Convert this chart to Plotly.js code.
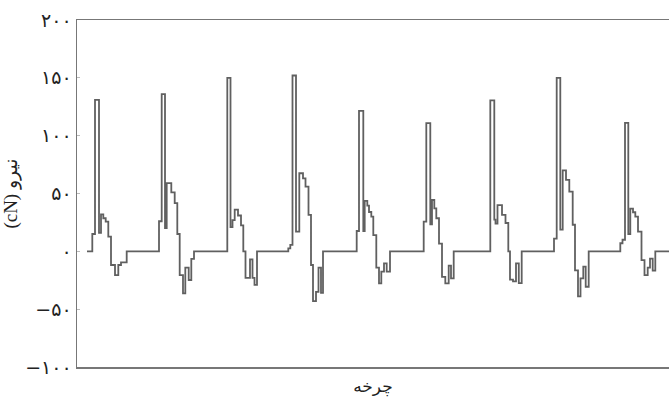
<!DOCTYPE html>
<html>
<head>
<meta charset="utf-8">
<script src="https://cdn.plot.ly/plotly-3.0.1.min.js"></script>
<style>html,body{margin:0;padding:0;background:#fff;}#chart{width:669px;height:403px;}</style>
</head>
<body>
<div id="chart"></div>
<script>
// Sample position along the cycles (arbitrary units) and force (cN)
const samplePos = [
  10, 15.3, 18, 22, 24, 26.3, 28.7, 31.3, 34, 38, 41.3, 44, 49.7,
  82, 84.7, 88, 89.7, 94.3, 97.7, 100.3, 102.7, 106, 108.3, 111.7, 114.3, 117,
  150.3, 153.5, 155.5, 157.7, 161, 164, 166.3, 168.5, 173, 175.5, 177.5, 180,
  211.3, 213.3, 215.5, 219, 222.3, 226, 228.5, 231.5, 234, 236, 239, 241.5, 244, 246,
  279.7, 282, 286.3, 287.7, 290.3, 292, 294.3, 296.3, 299.3, 302, 304.3, 307, 309.7, 313,
  346.7, 349.3, 353.3, 355, 357.3, 359.3, 362, 365, 368.3, 371.7, 374, 376.7,
  413.3, 417.3, 418.5, 420.5, 425, 428.5, 431.3, 433, 436, 439, 441.8, 444.7,
  477, 479.7, 483.3, 485.7, 489, 492.3, 495.7, 498, 501, 503.5, 506.3, 508.7, 511.7,
  543.3, 545.5, 548, 551.3, 553.3, 556, 558.3, 561, 564.5, 567.5, 570.7, 573, 575.7, 578.3, 592
];
const force = [
  0, 15, 131, 16, 32, 28.6, 25.7, 12.7, -11.8, -20.5, -11.8, -9.5, 0,
  26, 136, 20, 59, 51, 41.6, 15, -20.5, -36.4, -14, -24.8, -6.6, 0,
  150, 21, 27, 36, 31, 22.5, 0, -23, -7, -23, -29, 0,
  2.6, 5.5, 152, 17, 67.5, 63, 56, 31.5, -11.8, -43, -35, -14, -36, 0,
  17.6, 121.5, 17.6, 43.6, 39.5, 34, 30, 14, -14, -27.7, -17.6, -10.4, -17.6, 0,
  25.7, 110.8, 23.4, 44.4, 37.2, 28.6, 6.6, -22, -27.7, -12.4, -23.4, 0,
  130.5, 27.5, 24, 40, 31.5, 24.5, 0, -24.5, -26, -10.4, -27.5, 0,
  11, 150, 18.8, 70, 61.8, 51.7, 23, -16.5, -39, -23.4, -13.3, -30.6, 0,
  7, 10, 111, 15, 37, 33.8, 30, 17, -7.6, -20.5, -14, -6.3, -16.7, 0, 0
];
const yTickVals = [-100, -50, 0, 50, 100, 150, 200];
const yTickText = ["−۱۰۰", "−۵۰", "۰", "۵۰", "۱۰۰", "۱۵۰", "۲۰۰"];
const xTitle = "چرخه";
const yTitle = "(cN) نیرو";

const trace = {
  x: samplePos, y: force, type: 'scatter', mode: 'lines',
  line: {shape: 'hv', color: '#606060', width: 1.8},
  hoverinfo: 'skip'
};
const layout = {
  width: 669, height: 403,
  margin: {l: 77, r: 0, t: 20, b: 36},
  paper_bgcolor: '#fff', plot_bgcolor: '#fff',
  showlegend: false,
  font: {family: '"Liberation Serif", "DejaVu Sans", serif', color: '#222'},
  xaxis: {
    range: [0, 592], showgrid: false, zeroline: false,
    showticklabels: false, ticks: '',
    showline: true, mirror: true, linecolor: '#777', linewidth: 1.5,
    title: {text: xTitle, font: {size: 17, family: '"DejaVu Sans", sans-serif', color: '#222'}, standoff: 12}
  },
  yaxis: {
    range: [-100, 200], showgrid: false, zeroline: false,
    tickvals: yTickVals, ticktext: yTickText,
    ticks: 'inside', ticklen: 3, tickcolor: '#bbb',
    tickfont: {size: 19, family: '"DejaVu Sans", sans-serif', color: '#222'},
    showline: true, linecolor: '#777', linewidth: 1.5,
    title: {text: yTitle, font: {size: 19, family: '"Liberation Serif", "DejaVu Sans", serif', color: '#222'}, standoff: 4}
  }
};
Plotly.newPlot('chart', [trace], layout, {staticPlot: true, displayModeBar: false});
</script>
</body>
</html>
